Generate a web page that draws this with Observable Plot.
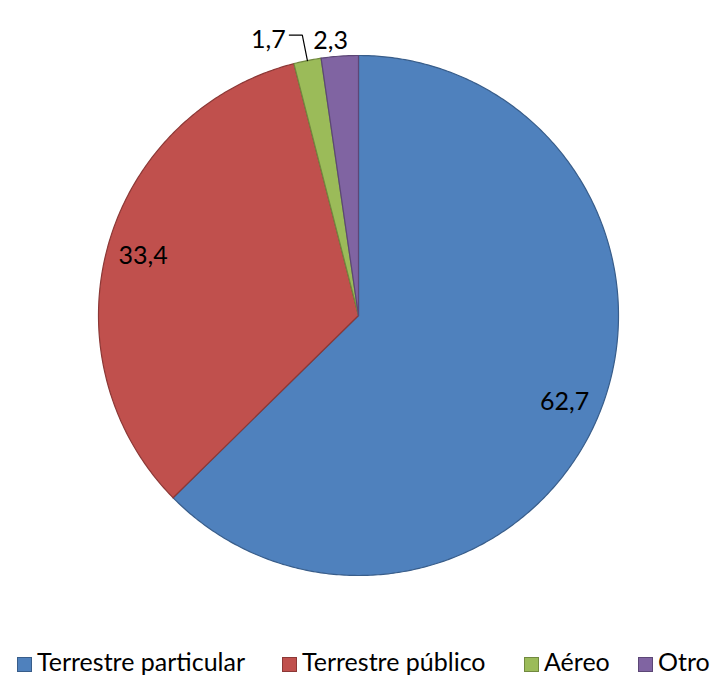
<!DOCTYPE html>
<html>
<head>
<meta charset="utf-8">
<script src="https://cdn.jsdelivr.net/npm/d3@7"></script>
<script src="https://cdn.jsdelivr.net/npm/@observablehq/plot@0.6"></script>
<style>
  html, body { margin: 0; padding: 0; background: #fff; overflow: hidden; }
  #wrap { position: relative; width: 715px; height: 681px; overflow: hidden; font-family: Lato, "Open Sans", sans-serif; }
  #legend { position: absolute; top: 646px; left: 0; width: 715px; height: 30px; font-size: 25px; line-height: 30px; color: #000; }
  .item { position: absolute; top: 0; height: 30px; white-space: nowrap; }
  .sw { position: absolute; top: 11px; width: 13px; height: 13px; border: 1px solid; }
  .tx { position: absolute; top: 0; }
</style>
</head>
<body>
<div id="wrap"><div id="chart"></div><div id="legend"></div></div>
<script>
const categories = ["Terrestre particular", "Terrestre público", "Aéreo", "Otro"];
const values = [62.7, 33.4, 1.7, 2.3];
const valueLabels = ["62,7", "33,4", "1,7", "2,3"];
const fills = ["#4F81BD", "#C0504D", "#9BBB59", "#8064A2"];
const strokes = ["#385D8A", "#8C3836", "#71893F", "#5C4776"];

const data = categories.map((c, i) => ({category: c, value: values[i], label: valueLabels[i], fill: fills[i], stroke: strokes[i]}));
const arcs = d3.pie().sort(null).value(d => d.value)(data);

const pt = (a, r) => ({x: r * Math.sin(a), y: r * Math.cos(a)});

// polygon vertices for each slice (derived from pie angles)
const slices = arcs.map(a => {
  const pts = [{x: 0, y: 0}];
  const n = Math.max(2, Math.ceil((a.endAngle - a.startAngle) / 0.01));
  for (let k = 0; k <= n; k++) pts.push(pt(a.startAngle + (a.endAngle - a.startAngle) * k / n, 1));
  pts.push({x: 0, y: 0});
  return {arc: a, pts};
});

// label placement: big slices inside, small ones outside
const labelRows = arcs.map((a, i) => {
  const mid = (a.startAngle + a.endAngle) / 2;
  const small = a.data.value < 5;
  const p = pt(mid, small ? 1.06 : 0.86);
  return {...p, label: a.data.label, i};
});

// leader line for the green slice
const g = arcs[2];
const gm = (g.startAngle + g.endAngle) / 2;
const p0 = pt(gm, 1), p1 = pt(gm, 1.1);
const leader = [p0, p1, {x: p1.x - 13 / 260, y: p1.y}];

const marks = [];
slices.forEach(s => {
  marks.push(Plot.line(s.pts, {x: "x", y: "y", fill: s.arc.data.fill, stroke: s.arc.data.stroke, strokeWidth: 1.2, curve: "linear-closed"}));
});
marks.push(Plot.line(leader, {x: "x", y: "y", stroke: "#000", strokeWidth: 1.2}));
const dxs = [0, 0, -36, -8];
const dys = [0, 0, -5, 0];
labelRows.forEach(r => {
  marks.push(Plot.text([r], {x: "x", y: "y", text: "label", fontSize: 25, fill: "#000", dx: dxs[r.i], dy: dys[r.i], fontFamily: "Lato, 'Open Sans', sans-serif"}));
});

const chart = Plot.plot({
  width: 715,
  height: 630,
  marginLeft: 98,
  marginRight: 97,
  marginTop: 55,
  marginBottom: 55,
  x: {domain: [-1, 1], axis: null},
  y: {domain: [-1, 1], axis: null},
  style: {background: "#fff", overflow: "visible"},
  marks
});
document.getElementById("chart").appendChild(chart);

const swatchLefts = [17, 282, 524, 638];
const legend = document.getElementById("legend");
categories.forEach((c, i) => {
  const it = document.createElement("div");
  it.className = "item";
  it.style.left = swatchLefts[i] + "px";
  const sw = document.createElement("div");
  sw.className = "sw";
  sw.style.left = "0px";
  sw.style.background = fills[i];
  sw.style.borderColor = strokes[i];
  const t = document.createElement("span");
  t.className = "tx";
  t.style.left = "20px";
  t.textContent = c;
  it.appendChild(sw); it.appendChild(t);
  legend.appendChild(it);
});
</script>
</body>
</html>
